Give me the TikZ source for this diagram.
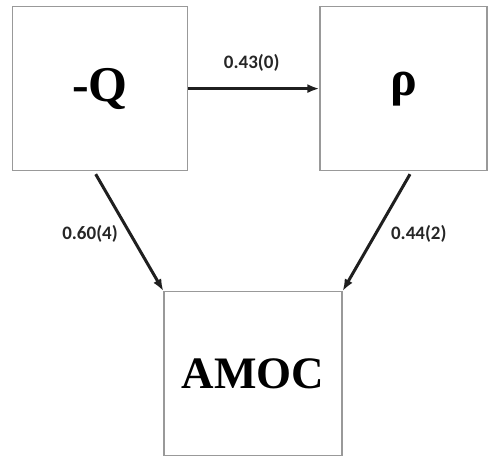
\documentclass[tikz,border=0pt]{standalone}
\usepackage{fontspec}
\setmainfont{Liberation Serif}
\newfontfamily\lblfont{Carlito}[BoldFont={Carlito Bold}]
\usetikzlibrary{arrows.meta}
\begin{document}
\begin{tikzpicture}[x=1pt,y=1pt,
  varbox/.style={draw=black!40,line width=1.2pt,rectangle,minimum height=164pt,inner sep=0pt,font=\bfseries\fontsize{50}{50}\selectfont},
  link/.style={line width=3pt,draw=black!88,-{Latex[length=12pt,width=9pt]}},
  coef/.style={font=\lblfont\bfseries\fontsize{19}{20}\selectfont,text=black!85,inner sep=0pt}]
\useasboundingbox (0,0) rectangle (494,-457);
\node[varbox,minimum width=175pt] (Q) at (100,-88.6) {-Q};
\node[varbox,minimum width=167pt] (rho) at (403.5,-88.6) {ρ};
\node[varbox,minimum width=178pt,font=\bfseries\fontsize{45}{45}\selectfont] (amoc) at (253,-373.7) {AMOC};
\draw[link] (Q.east) -- (rho.west);
\draw[link] ([xshift=-4.3pt,yshift=-3pt]Q.south) -- (amoc.north west);
\draw[link] ([xshift=6.5pt,yshift=-3pt]rho.south) -- (amoc.north east);
\node[coef] (l1) at (251.7,-62.5) {0.43(0)};
\node[coef] (l2) at (90,-234) {0.60(4)};
\node[coef] (l3) at (418.8,-234) {0.44(2)};
\end{tikzpicture}
\end{document}
